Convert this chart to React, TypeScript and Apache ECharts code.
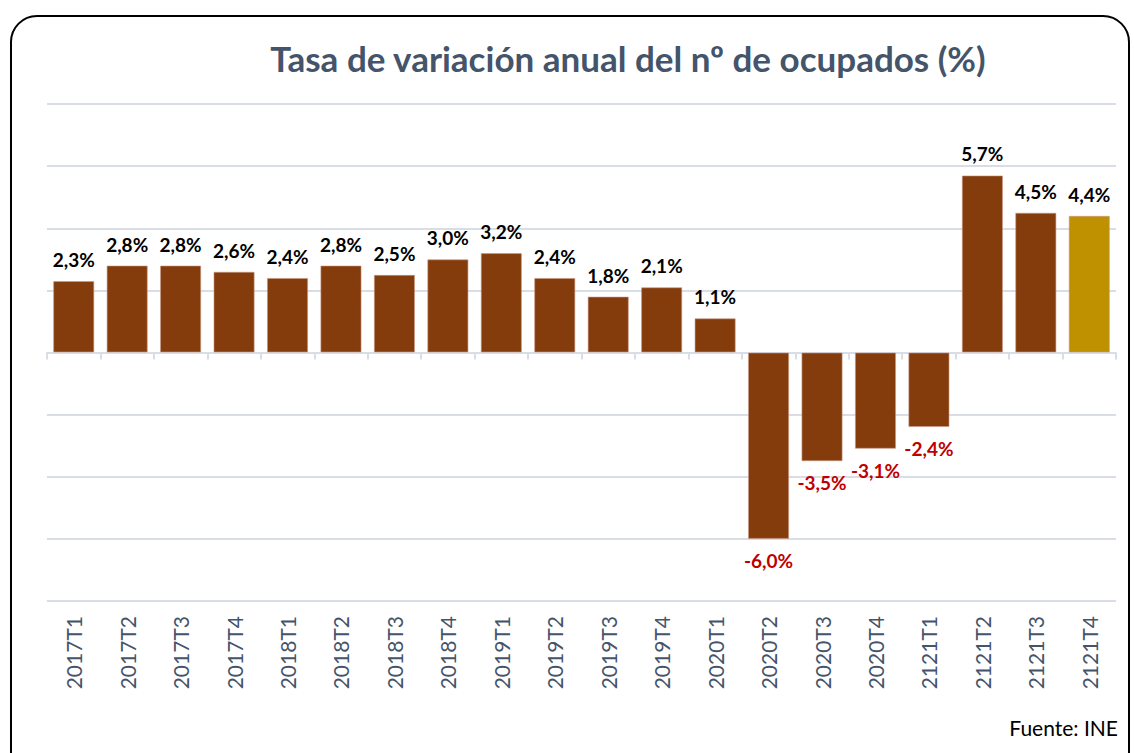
import React, { useEffect, useRef } from "react";
import * as echarts from "echarts";

const categories = [
  "2017T1", "2017T2", "2017T3", "2017T4",
  "2018T1", "2018T2", "2018T3", "2018T4",
  "2019T1", "2019T2", "2019T3", "2019T4",
  "2020T1", "2020T2", "2020T3", "2020T4",
  "2121T1", "2121T2", "2121T3", "2121T4",
];
const values = [
  2.3, 2.8, 2.8, 2.6,
  2.4, 2.8, 2.5, 3.0,
  3.2, 2.4, 1.8, 2.1,
  1.1, -6.0, -3.5, -3.1,
  -2.4, 5.7, 4.5, 4.4,
];
const titleText = "Tasa de variación anual del nº de ocupados (%)";
const sourceText = "Fuente: INE";

const BROWN = "#843C0C";
const GOLD = "#BF9000";
const RED = "#C00000";
const GRID = "#D9DEE6";
const SLATE = "#44546A";

export default function App() {
  const ref = useRef<HTMLDivElement>(null);
  useEffect(() => {
    if (!ref.current) return;
    const chart = echarts.init(ref.current, null, { renderer: "svg" });
    const fmt = (v: number) => v.toFixed(1).replace(".", ",") + "%";
    const data = values.map((v, i) => ({
      value: v,
      itemStyle: {
        color: i === values.length - 1 ? GOLD : BROWN,
      },
      label: {
        position: v < 0 ? "bottom" : "top",
        color: v < 0 ? RED : "#000000",
      },
    }));
    chart.setOption({
      animation: false,
      backgroundColor: "#ffffff",
      graphic: [
        {
          type: "rect",
          shape: { x: 11, y: 16, width: 1118, height: 780, r: 26 },
          style: { fill: "none", stroke: "#000000", lineWidth: 2 },
          z: 100,
          silent: true,
        },
        {
          type: "text",
          x: 628,
          y: 58,
          style: {
            text: titleText,
            font: "bold 35px Lato, 'Open Sans', sans-serif",
            fill: SLATE,
            textAlign: "center",
            textVerticalAlign: "middle",
          },
        },
        {
          type: "text",
          x: 1118,
          y: 727,
          style: {
            text: sourceText,
            font: "21px Lato, 'Open Sans', sans-serif",
            fill: "#000000",
            textAlign: "right",
            textVerticalAlign: "middle",
          },
        },
      ],
      grid: { left: 47, right: 18, top: 104, bottom: 152, containLabel: false },
      xAxis: [
        {
          type: "category",
          data: categories,
          axisLine: { show: true, onZero: true, lineStyle: { color: GRID, width: 2 } },
          axisTick: { show: true, length: 7, lineStyle: { color: GRID, width: 2 } },
          axisLabel: { show: false },
        },
        {
          type: "category",
          data: categories,
          position: "bottom",
          axisLine: { show: false, onZero: false },
          axisTick: { show: false },
          axisLabel: {
            show: true,
            rotate: 90,
            margin: 15,
            color: SLATE,
            fontSize: 21,
            fontFamily: "Lato, 'Open Sans', sans-serif",
          },
        },
      ],
      yAxis: {
        type: "value",
        min: -8,
        max: 8,
        interval: 2,
        axisLabel: { show: false },
        axisLine: { show: false },
        axisTick: { show: false },
        splitLine: { show: true, lineStyle: { color: GRID, width: 2 } },
      },
      series: [
        {
          type: "bar",
          xAxisIndex: 0,
          data,
          barCategoryGap: "23%",
          itemStyle: { borderColor: "rgba(200,150,130,0.6)", borderWidth: 1 },
          label: {
            show: true,
            distance: 12,
            fontSize: 19,
            fontWeight: "bold",
            fontFamily: "Lato, 'Open Sans', sans-serif",
            formatter: (p: any) => fmt(p.value),
          },
        },
      ],
    });
    return () => chart.dispose();
  }, []);
  return (
    <div
      ref={ref}
      style={{ position: "absolute", left: 0, top: 0, width: 1134, height: 753 }}
    />
  );
}
